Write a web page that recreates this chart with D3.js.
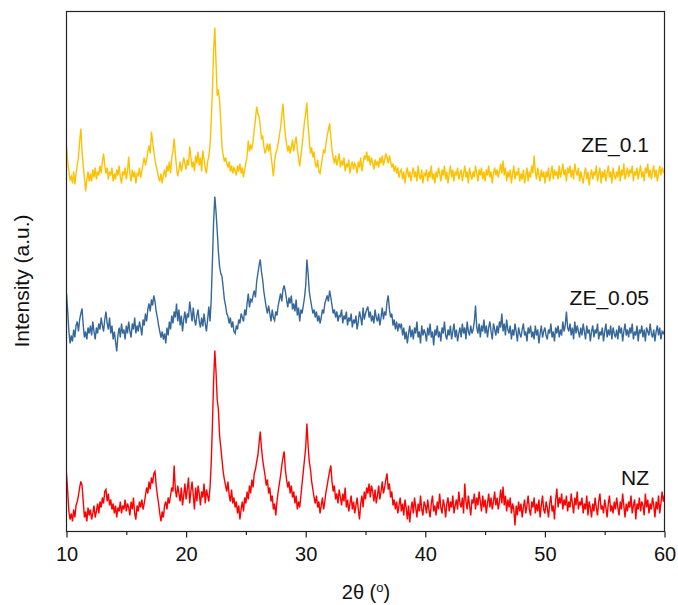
<!DOCTYPE html>
<html>
<head>
<meta charset="utf-8">
<script src="https://cdn.jsdelivr.net/npm/d3@7"></script>
<style>
  html, body { margin: 0; padding: 0; background: #fff; }
  svg { display: block; font-family: "Liberation Sans", Arial, sans-serif; }
</style>
</head>
<body>
<svg id="chart" width="678" height="605"></svg>
<script>
// XRD patterns, sampled every 0.1° in 2θ from 10° to 60°
const angleStart = 10;
const angleStep = 0.1;

// NZ
const intensityNZ = [
  58,40,20,12,18,10,22,14,26,30,
  36,44,50,46,30,14,20,10,24,16,
  22,12,18,26,14,20,28,18,30,24,
  34,28,40,42,30,38,26,32,22,28,
  18,26,14,24,20,30,18,26,22,32,
  20,28,24,16,30,22,34,18,12,26,
  20,30,24,32,22,28,36,44,38,50,
  42,54,48,58,60,46,36,28,18,10,
  20,14,26,30,22,34,28,36,44,40,
  66,42,34,46,38,30,44,26,36,48,
  32,42,54,28,40,50,36,22,44,30,
  46,38,26,40,34,48,28,42,36,30,
  44,68,106,150,181,160,132,122,96,84,
  72,60,52,46,40,50,36,30,42,28,
  34,24,30,18,26,12,22,30,20,34,
  28,40,32,46,38,52,44,58,62,70,
  76,88,100,84,72,64,56,46,52,38,
  44,30,36,22,28,16,30,40,48,56,
  66,74,80,62,52,44,50,38,46,34,
  40,28,36,22,30,24,36,48,60,72,
  84,108,86,70,62,50,42,34,28,36,
  24,30,18,26,34,22,30,40,46,54,
  60,66,50,40,46,32,38,28,42,34,
  26,38,30,44,24,32,20,28,36,22,
  30,18,26,34,22,12,28,36,24,40,
  32,44,38,48,34,46,40,30,42,28,
  36,46,32,40,50,38,44,52,58,42,
  48,34,40,26,32,22,30,18,26,34,
  20,28,16,32,24,12,26,9,22,30,
  18,34,24,14,28,20,36,22,16,30,
  26,18,32,22,14,28,36,20,26,16,
  30,22,38,24,18,32,26,14,28,34,
  20,30,24,36,18,26,32,22,40,28,
  24,34,18,48,30,22,36,26,16,32,
  28,38,22,34,26,40,30,20,36,24,
  32,18,28,38,24,34,22,30,40,26,
  34,22,30,42,28,45,26,36,20,32,
  24,34,18,28,22,6,26,16,30,20,
  28,14,24,32,18,26,36,22,16,30,
  24,34,18,28,20,32,14,26,36,22,
  18,30,24,14,28,36,20,26,12,32,
  43,24,34,28,38,22,32,26,36,20,
  30,24,38,28,18,34,26,40,22,30,
  26,34,18,28,22,36,16,30,24,14,
  28,20,34,24,16,30,38,22,26,18,
  32,24,14,28,36,20,26,18,30,22,
  34,24,16,30,22,38,26,14,28,20,
  30,24,36,18,26,32,12,28,22,34,
  20,30,26,16,38,24,32,18,28,22,
  34,26,14,30,22,36,18,28,40,30,
  36
];

// ZE_0.05
const intensityZE005 = [
  68,50,30,18,26,20,32,24,36,40,
  30,42,48,53,36,24,30,22,34,28,
  36,26,40,30,22,34,28,38,32,44,
  36,30,42,50,38,32,44,28,36,22,
  30,20,10,26,34,24,38,28,32,22,
  36,28,40,30,24,38,32,44,28,36,
  30,40,34,26,42,36,48,40,52,58,
  50,62,56,66,60,50,44,36,30,24,
  30,22,28,18,34,26,40,32,46,38,
  50,44,58,40,52,36,46,30,42,50,
  38,48,44,60,50,40,54,42,36,46,
  52,40,34,44,35,48,38,30,42,55,
  40,62,100,140,165,150,131,110,95,88,
  85,74,62,56,48,45,38,44,34,40,
  30,28,36,32,42,38,48,44,40,52,
  46,58,68,54,62,60,66,71,64,80,
  88,96,102,90,82,70,62,54,48,56,
  48,40,52,44,41,50,46,56,62,68,
  60,72,76,70,62,54,64,58,66,52,
  58,50,62,46,54,40,52,48,56,64,
  76,102,88,70,62,55,48,52,44,50,
  40,46,38,44,52,48,58,62,66,60,
  71,64,56,48,52,44,50,40,46,45,
  52,38,46,42,50,36,44,40,48,34,
  42,38,46,32,40,50,44,36,54,42,
  48,52,55,44,50,40,46,38,52,44,
  40,48,36,44,54,42,50,46,60,66,
  52,44,48,36,42,32,40,30,38,34,
  38,26,34,22,30,18,28,36,24,32,
  22,34,28,40,24,30,18,36,26,32,
  28,20,34,26,38,24,30,16,32,26,
  36,24,30,20,34,28,40,26,22,32,
  26,36,22,30,38,24,32,20,28,34,
  24,38,28,34,22,40,30,26,36,28,
  32,40,56,34,28,38,24,36,30,42,
  28,36,24,34,40,30,22,38,32,26,
  36,28,40,34,48,30,38,26,42,32,
  28,36,22,32,26,38,30,20,34,28,
  24,32,38,26,30,20,34,28,36,24,
  30,22,36,26,32,18,28,36,24,30,
  34,26,22,32,28,38,24,30,20,34,
  28,36,24,32,26,40,30,36,50,34,
  30,38,26,34,22,40,28,36,30,24,
  34,26,38,30,22,36,28,32,20,30,
  36,24,32,28,38,22,30,26,34,20,
  30,38,24,32,26,36,22,34,28,24,
  32,22,36,28,34,20,30,38,26,32,
  24,34,28,38,22,30,26,36,20,32,
  28,36,24,32,20,34,30,26,38,28,
  24,32,20,30,36,26,34,22,30,28,
  31
];

// ZE_0.1
const intensityZE01 = [
  55,40,30,22,25,18,30,17,28,36,
  44,60,73,50,35,24,10,22,30,20,
  28,20,32,24,34,22,30,26,36,28,
  40,48,36,28,34,22,30,26,34,20,
  28,22,32,26,36,24,18,30,26,34,
  22,30,45,28,20,32,24,30,18,28,
  26,34,24,30,38,44,36,42,50,56,
  48,70,60,50,42,35,30,24,20,28,
  18,26,32,24,36,30,40,28,44,50,
  63,48,34,25,32,40,30,36,44,38,
  32,42,36,55,44,34,40,30,46,38,
  50,36,44,30,51,42,34,28,40,45,
  56,80,111,150,174,140,106,112,101,80,
  55,46,40,44,38,34,40,30,36,28,
  34,31,26,36,30,38,28,34,24,32,
  38,46,61,50,56,53,60,72,82,95,
  88,85,76,62,66,55,48,52,58,50,
  58,46,36,25,40,48,52,58,66,74,
  86,98,80,66,58,50,56,48,54,62,
  50,58,65,52,44,35,46,56,68,80,
  88,99,76,62,48,54,44,50,38,34,
  42,30,28,36,44,52,48,58,66,72,
  78,64,52,44,38,46,36,42,48,34,
  41,36,44,30,38,34,42,28,36,40,
  32,38,35,28,40,34,44,30,38,46,
  42,50,40,46,36,44,38,32,42,36,
  40,34,44,38,46,36,42,48,44,38,
  46,40,34,38,30,36,28,34,24,30,
  32,22,30,18,28,34,24,30,20,28,
  34,24,30,20,36,26,22,32,18,28,
  26,32,20,30,24,36,22,28,18,30,
  24,34,28,20,32,26,36,22,30,18,
  28,36,24,32,20,30,26,34,22,28,
  32,20,28,36,24,30,18,34,26,22,
  30,24,36,28,20,32,26,34,22,30,
  20,32,26,36,24,30,18,28,34,26,
  32,24,30,38,28,41,26,34,20,30,
  24,32,18,28,36,22,30,26,34,20,
  28,22,32,18,26,34,20,30,24,36,
  28,46,30,22,34,26,20,32,24,30,
  18,30,24,34,20,28,36,22,32,26,
  30,22,36,24,30,38,26,32,20,34,
  28,36,24,32,22,38,30,26,34,20,
  30,24,18,28,34,22,30,16,26,32,
  22,30,26,36,20,28,34,18,30,24,
  32,20,28,36,24,30,18,34,26,22,
  30,24,36,20,32,26,38,22,28,34,
  24,32,28,36,20,30,26,34,22,30,
  36,24,30,20,34,28,38,24,32,22,
  30,36,24,32,20,28,36,26,34,30,
  28
];

const seriesNames = ["NZ", "ZE_0.05", "ZE_0.1"];
const seriesValues = [intensityNZ, intensityZE005, intensityZE01];
const seriesOffsets = [0, 170, 330];          // vertical stacking offsets (a.u.)
const seriesColors = ["#ff0000", "#35679a", "#ffc000"];

const xMajorTicks = [10, 20, 30, 40, 50, 60];
const xMinorTicks = [15, 25, 35, 45, 55];

// ---- layout ----
const svg = d3.select("#chart");
const plot = { left: 66.5, right: 664.5, top: 11.5, bottom: 531.5 };

const x = d3.scaleLinear().domain([10, 60]).range([plot.left, plot.right]);
const y = d3.scaleLinear().domain([0, 520]).range([plot.bottom, plot.top]);

svg.append("clipPath").attr("id", "plot-clip")
  .append("rect")
  .attr("x", plot.left).attr("y", plot.top)
  .attr("width", plot.right - plot.left).attr("height", plot.bottom - plot.top);

// ---- traces ----
const drawOrder = [2, 1, 0];
const traces = svg.append("g").attr("clip-path", "url(#plot-clip)");
drawOrder.forEach(i => {
  const off = seriesOffsets[i];
  const line = d3.line()
    .x((d, k) => x(angleStart + k * angleStep))
    .y(d => y(d + off));
  traces.append("path")
    .datum(seriesValues[i])
    .attr("fill", "none")
    .attr("stroke", seriesColors[i])
    .attr("stroke-width", 1.4)
    .attr("stroke-linejoin", "miter")
    .attr("stroke-miterlimit", 4)
    .attr("d", line);
});

// ---- series labels ----
const labelLift = [47, 57, 50];
seriesNames.forEach((name, i) => {
  svg.append("text")
    .attr("x", 649)
    .attr("y", y(seriesOffsets[i] + labelLift[i]))
    .attr("text-anchor", "end")
    .attr("font-size", 21)
    .attr("fill", "#111")
    .text(name);
});

// ---- frame ----
svg.append("rect")
  .attr("x", plot.left).attr("y", plot.top)
  .attr("width", plot.right - plot.left).attr("height", plot.bottom - plot.top)
  .attr("fill", "none").attr("stroke", "#222").attr("stroke-width", 1.2);

// ---- bottom axis ----
const axisMajor = d3.axisBottom(x).tickValues(xMajorTicks).tickSize(6).tickPadding(9.5)
  .tickFormat(d3.format("d"));
const gx = svg.append("g").attr("transform", `translate(0,${plot.bottom})`).call(axisMajor);
gx.select(".domain").remove();
gx.selectAll(".tick line").attr("stroke", "#222").attr("stroke-width", 1.2);
gx.selectAll(".tick text").attr("font-size", 20).attr("fill", "#111")
  .attr("font-family", '"Liberation Sans", Arial, sans-serif');

const axisMinor = d3.axisBottom(x).tickValues(xMinorTicks).tickSize(3.5).tickFormat("");
const gxm = svg.append("g").attr("transform", `translate(0,${plot.bottom})`).call(axisMinor);
gxm.select(".domain").remove();
gxm.selectAll(".tick line").attr("stroke", "#222").attr("stroke-width", 1.2);

// ---- axis titles ----
const xTitle = svg.append("text")
  .attr("x", 366).attr("y", 599)
  .attr("text-anchor", "middle")
  .attr("font-size", 20).attr("fill", "#111");
xTitle.append("tspan").text("2θ (");
xTitle.append("tspan").attr("font-size", 13).attr("dy", -7).text("o");
xTitle.append("tspan").attr("dy", 7).text(")");

svg.append("text")
  .attr("transform", "translate(29,281) rotate(-90)")
  .attr("text-anchor", "middle")
  .attr("font-size", 21).attr("fill", "#111")
  .text("Intensity (a.u.)");
</script>
</body>
</html>
